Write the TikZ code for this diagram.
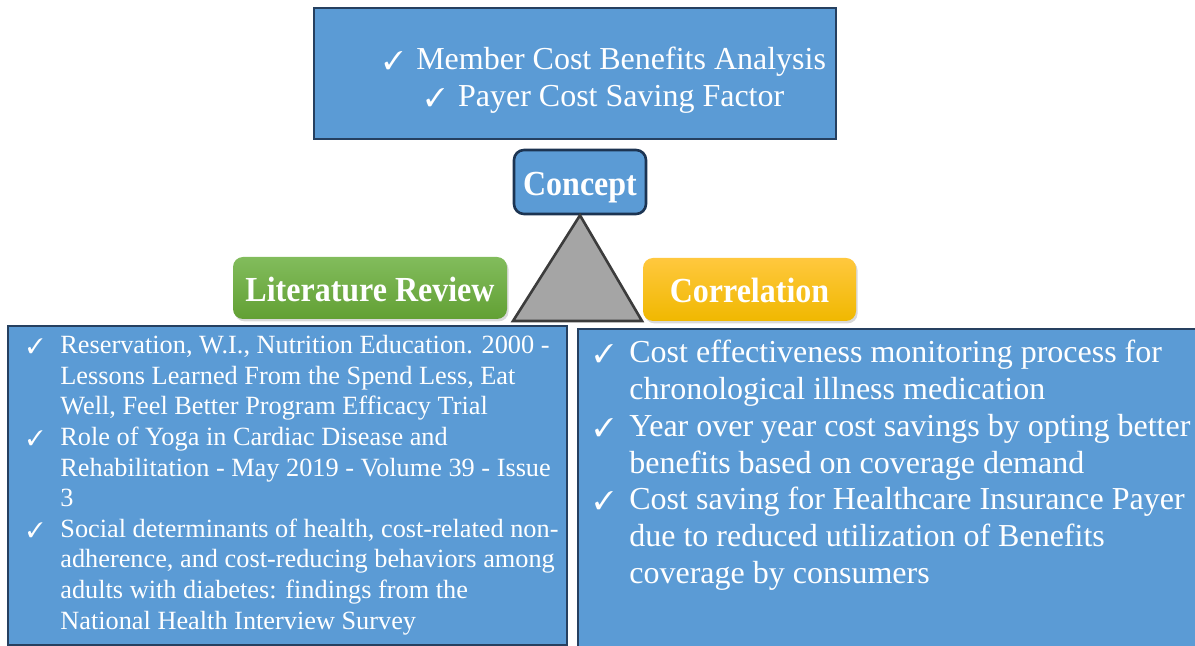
\documentclass[tikz,border=0pt]{standalone}
\usepackage{fontspec}
\setmainfont{Liberation Serif}
\usepackage{pifont}
\usepackage{tikz}
\usetikzlibrary{shadows}

\definecolor{boxblue}{RGB}{91,155,213}
\definecolor{boxline}{RGB}{38,64,96}
\definecolor{conceptline}{RGB}{28,52,82}
\definecolor{trifill}{RGB}{165,165,165}
\definecolor{triline}{RGB}{60,60,60}
\definecolor{greentop}{RGB}{130,188,92}
\definecolor{greenbot}{RGB}{98,160,52}
\definecolor{goldtop}{RGB}{255,200,62}
\definecolor{goldbot}{RGB}{240,184,0}

\newcommand{\chk}{\scalebox{0.8}{\ding{51}}}
\newcommand{\itemtick}[1]{\makebox[#1][l]{\chk}}
\newcommand{\tall}[1]{\scalebox{1}[1.1]{#1}}

\begin{document}
\begin{tikzpicture}[x=0.5pt,y=-0.5pt,
        bluebox/.style={draw=boxline, line width=1pt, fill=boxblue, inner sep=0pt},
        titletext/.style={text=white, font=\fontsize{16pt}{19pt}\selectfont\bfseries, text height=13.5pt, text depth=0pt},
        titlebox/.style={titletext, rounded corners=5pt, inner sep=0pt,
            drop shadow={shadow xshift=0.8pt, shadow yshift=-1.2pt, opacity=0.3}},
        itemlist/.style={text=white, align=left, inner sep=0pt, anchor=north west}]
    \useasboundingbox (0,0) rectangle (1195,646);
    \clip (0,0) rectangle (1195,646);

    % aims on top
    \node[bluebox, minimum width=261pt, minimum height=65.5pt] (aims) at (575,73.5) {};
    \node[text=white, align=center, inner sep=0pt, font=\fontsize{16pt}{18.5pt}\selectfont] (aimlist) at (605,80)
        {\chk\hspace{6.5pt}Member Cost Benefits Analysis\\ \chk\hspace{6.5pt}Payer Cost Saving Factor};

    \node[bluebox, titletext, draw=conceptline, line width=1.3pt, rounded corners=5pt,
        minimum width=66pt, minimum height=32pt] (concept) at (580,182) {\tall{Concept}};

    % triangle under the concept box
    \draw[fill=trifill, draw=triline, line width=1.3pt, line join=miter] (concept.south) -- (642,321) -- (513,321) -- cycle;

    \node[titlebox, top color=greentop, bottom color=greenbot, minimum width=137pt, minimum height=31pt] (litreview) at (370,288) {\tall{Literature Review}};
    \node[titlebox, top color=goldtop, bottom color=goldbot, minimum width=106.5pt, minimum height=31.5pt] (correlation) at (749.5,289.5) {\tall{Correlation}};

    % the two lists
    \node[bluebox, minimum width=279.5pt, minimum height=159.5pt] (litbox) at (287.5,485.5) {};
    \node[bluebox, minimum width=313.5pt, minimum height=163pt] (corrbox) at (891.5,492) {};

    \node[itemlist, font=\fontsize{13.15pt}{15.3pt}\selectfont] (litlist) at (27,335) {%
        \itemtick{16.5pt}Reservation, W.I., Nutrition Education. 2000 -\\
        \hspace*{16.5pt}Lessons Learned From the Spend Less, Eat\\
        \hspace*{16.5pt}Well, Feel Better Program Efficacy Trial\\
        \itemtick{16.5pt}Role of Yoga in Cardiac Disease and\\
        \hspace*{16.5pt}Rehabilitation - May 2019 - Volume 39 - Issue\\
        \hspace*{16.5pt}3\\
        \itemtick{16.5pt}Social determinants of health, cost-related non-\\
        \hspace*{16.5pt}adherence, and cost-reducing behaviors among\\
        \hspace*{16.5pt}adults with diabetes: findings from the\\
        \hspace*{16.5pt}National Health Interview Survey};

    \node[itemlist, font=\fontsize{16pt}{18.35pt}\selectfont] (corrlist) at (594,340) {%
        \itemtick{17.5pt}Cost effectiveness monitoring process for\\
        \hspace*{17.5pt}chronological illness medication\\
        \itemtick{17.5pt}Year over year cost savings by opting better\\
        \hspace*{17.5pt}benefits based on coverage demand\\
        \itemtick{17.5pt}Cost saving for Healthcare Insurance Payer\\
        \hspace*{17.5pt}due to reduced utilization of Benefits\\
        \hspace*{17.5pt}coverage by consumers};
\end{tikzpicture}
\end{document}
